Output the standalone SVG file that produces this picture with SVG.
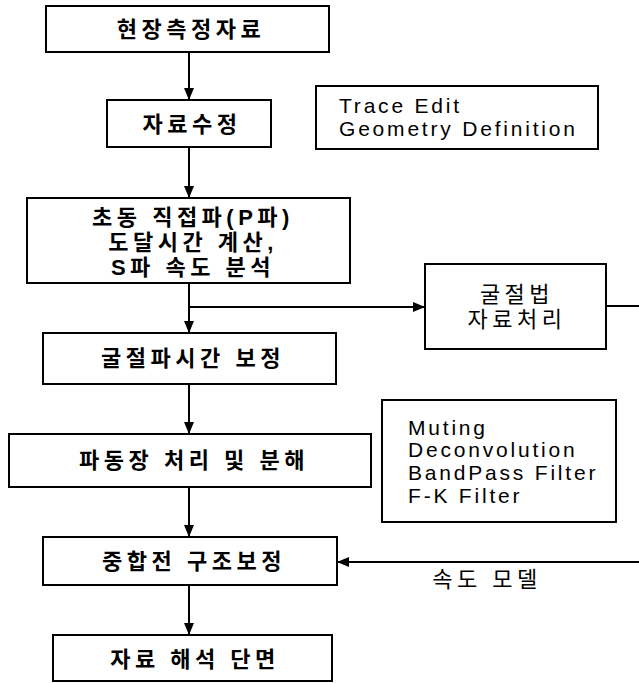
<svg xmlns="http://www.w3.org/2000/svg" width="639" height="683" viewBox="0 0 639 683">
<defs>
<marker id="ah" markerWidth="12" markerHeight="10" refX="12" refY="5" orient="auto" markerUnits="userSpaceOnUse">
<path d="M0,0 L12,5 L0,10 Z" fill="#000"/>
</marker>
<style>
.box{fill:#fff;stroke:#000;stroke-width:2}
.kr{font-family:"Liberation Sans","Noto Sans CJK KR",sans-serif;font-size:22px;font-weight:bold;letter-spacing:4.5px;text-anchor:middle;dominant-baseline:central;fill:#000}
.lt{font-weight:normal}
.en{font-family:"Liberation Sans","Noto Sans CJK KR",sans-serif;font-size:21px;letter-spacing:2.8px;fill:#000}
.ln{fill:none;stroke:#000;stroke-width:2}
</style>
</defs>
<rect width="639" height="683" fill="#fff"/>
<g id="connectors">
<line class="ln" x1="189" y1="52" x2="189" y2="100" marker-end="url(#ah)"/>
<line class="ln" x1="189" y1="147" x2="189" y2="198" marker-end="url(#ah)"/>
<line class="ln" x1="189" y1="283" x2="189" y2="333" marker-end="url(#ah)"/>
<line class="ln" x1="189" y1="307" x2="425" y2="307" marker-end="url(#ah)"/>
<line class="ln" x1="606" y1="306" x2="639" y2="306"/>
<line class="ln" x1="189" y1="384" x2="189" y2="434" marker-end="url(#ah)"/>
<line class="ln" x1="189" y1="487" x2="189" y2="537" marker-end="url(#ah)"/>
<line class="ln" x1="639" y1="562" x2="337" y2="562" marker-end="url(#ah)"/>
<line class="ln" x1="189" y1="585" x2="189" y2="635" marker-end="url(#ah)"/>
<text class="kr lt" x="487" y="579">속도 모델</text>
</g>
<g id="n1"><rect class="box" x="46" y="6" width="283" height="46"/><text class="kr" x="191" y="29">현장측정자료</text></g>
<g id="n2"><rect class="box" x="107" y="100" width="164" height="47"/><text class="kr" x="192" y="124">자료수정</text></g>
<g id="note1"><rect class="box" x="316" y="86" width="282" height="63"/><text class="en" x="339" y="113">Trace Edit</text><text class="en" x="339" y="136">Geometry Definition</text></g>
<g id="n3"><rect class="box" x="27" y="198" width="323" height="85"/>
<text class="kr" x="193" y="217">초동 직접파(P파)</text>
<text class="kr" x="193" y="242">도달시간 계산,</text>
<text class="kr" x="193" y="267">S파 속도 분석</text></g>
<g id="n4"><rect class="box" x="425" y="264" width="181" height="85"/>
<text class="kr lt" x="517" y="294">굴절법</text>
<text class="kr lt" x="517" y="319">자료처리</text></g>
<g id="n5"><rect class="box" x="43" y="333" width="293" height="51"/><text class="kr" x="193" y="358">굴절파시간 보정</text></g>
<g id="n6"><rect class="box" x="9" y="434" width="362" height="53"/><text class="kr" x="194" y="460">파동장 처리 및 분해</text></g>
<g id="note2"><rect class="box" x="382" y="400" width="234" height="122"/>
<text class="en" x="408" y="435">Muting</text>
<text class="en" x="408" y="457">Deconvolution</text>
<text class="en" x="408" y="480">BandPass Filter</text>
<text class="en" x="408" y="503">F-K Filter</text></g>
<g id="n7"><rect class="box" x="43" y="537" width="294" height="48"/><text class="kr" x="194" y="561">중합전 구조보정</text></g>
<g id="n8"><rect class="box" x="53" y="635" width="279" height="46"/><text class="kr" x="195" y="659">자료 해석 단면</text></g>
</svg>
